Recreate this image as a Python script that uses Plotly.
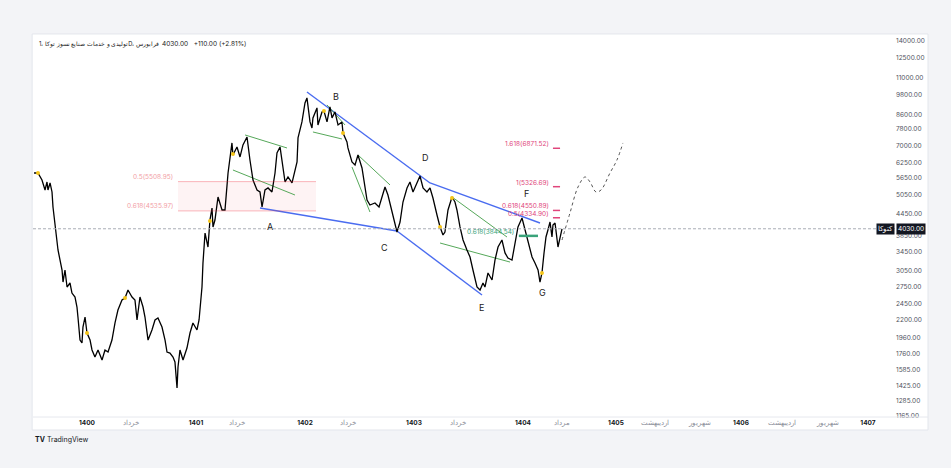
import plotly.graph_objects as go
import math

# ---- price series (Solar Hijri decimal year, close price) ----
years = [1399.514, 1399.550, 1399.587, 1399.596, 1399.615, 1399.633, 1399.642, 1399.661, 1399.679, 1399.688,
         1399.706, 1399.725, 1399.734, 1399.771, 1399.780, 1399.798, 1399.817, 1399.844, 1399.862, 1399.890,
         1399.908, 1399.917, 1399.936, 1399.954, 1399.963, 1399.982, 1400.000, 1400.028, 1400.046, 1400.073,
         1400.101, 1400.138, 1400.165, 1400.193, 1400.229, 1400.257, 1400.284, 1400.321, 1400.349, 1400.376,
         1400.413, 1400.440, 1400.459, 1400.486, 1400.514, 1400.532, 1400.560, 1400.596, 1400.624, 1400.651,
         1400.688, 1400.716, 1400.734, 1400.761, 1400.789, 1400.807, 1400.826, 1400.835, 1400.853, 1400.881,
         1400.917, 1400.945, 1400.972, 1401.009, 1401.028, 1401.055, 1401.064, 1401.083, 1401.110, 1401.128,
         1401.147, 1401.156, 1401.174, 1401.202, 1401.239, 1401.266, 1401.294, 1401.330, 1401.339, 1401.376,
         1401.404, 1401.431, 1401.468, 1401.495, 1401.523, 1401.560, 1401.587, 1401.606, 1401.633, 1401.661,
         1401.697, 1401.725, 1401.743, 1401.771, 1401.798, 1401.817, 1401.844, 1401.881, 1401.927, 1401.936,
         1401.972, 1402.000, 1402.018, 1402.046, 1402.064, 1402.073, 1402.110, 1402.119, 1402.156, 1402.174,
         1402.202, 1402.229, 1402.248, 1402.275, 1402.303, 1402.339, 1402.349, 1402.385, 1402.394, 1402.431,
         1402.459, 1402.486, 1402.523, 1402.550, 1402.569, 1402.596, 1402.642, 1402.679, 1402.716, 1402.734,
         1402.761, 1402.798, 1402.826, 1402.844, 1402.872, 1402.899, 1402.936, 1402.963, 1402.991, 1403.028,
         1403.055, 1403.083, 1403.119, 1403.147, 1403.174, 1403.211, 1403.239, 1403.266, 1403.284, 1403.312,
         1403.349, 1403.376, 1403.394, 1403.422, 1403.450, 1403.486, 1403.514, 1403.541, 1403.578, 1403.606,
         1403.633, 1403.651, 1403.679, 1403.716, 1403.743, 1403.771, 1403.807, 1403.835, 1403.862, 1403.899,
         1403.927, 1403.954, 1403.991, 1404.018, 1404.046, 1404.083, 1404.110, 1404.138, 1404.156, 1404.174,
         1404.193, 1404.211, 1404.229, 1404.248, 1404.266, 1404.275, 1404.294, 1404.321, 1404.358]
prices = [5833, 5833, 5569, 5460, 5211, 5496, 5211, 5460, 5143, 4656,
          4187, 3816, 3501, 3066, 2831, 3066, 2739, 2813, 2632, 2563,
          2399, 2245, 1927, 1890, 2101, 2245, 2019, 1927, 1804, 1722,
          1804, 1688, 1804, 1780, 1927, 2158, 2352, 2513, 2546, 2685,
          2563, 2513, 2201, 2563, 2399, 2245, 1927, 2060, 2201, 2230,
          2101, 1927, 1780, 1768, 1722, 1666, 1402, 1612, 1804, 1688,
          1828, 2019, 2158, 2060, 2201, 2739, 3211, 3918, 3571, 4271,
          4625, 4078, 4271, 4975, 4564, 4564, 5833, 7119, 6573, 6932,
          6487, 7025, 7407, 6358, 5569, 5211, 5143, 4656, 5211, 5282,
          5143, 5833, 6660, 6932, 5950, 5496, 5681, 5460, 6274, 7359,
          8182, 9281, 9594, 8182, 7862, 8404, 8981, 8019, 8742, 8800,
          8182, 9040, 8404, 8742, 8019, 8182, 7606, 7165, 6886, 6274,
          6152, 6573, 6031, 5282, 4877, 4718, 4780, 4656, 5143, 5317,
          5041, 4504, 4132, 3944, 4215, 4812, 5282, 5496, 5143, 5496,
          5719, 5282, 5143, 5282, 4942, 4415, 4078, 3867, 3944, 4564,
          4975, 4812, 4564, 4078, 3741, 3501, 3342, 3066, 2739, 2685,
          2813, 2739, 3006, 2869, 3275, 3571, 3741, 3433, 3320, 3275,
          3667, 4078, 4328, 3997, 3667, 3342, 3211, 3066, 2831, 3006,
          3433, 3816, 3997, 4215, 3816, 4132, 4187, 3571, 4030]

# projected path (dashed)
proj_years = [1404.358, 1404.431, 1404.505, 1404.569, 1404.615, 1404.670, 1404.716, 1404.798, 1404.862, 1404.917]
proj_prices = [3741, 4474, 5317, 5681, 5496, 5143, 5211, 5833, 6358, 7118]

last_price = 4030.00
change_abs = 110.00
change_pct = 2.81

# yellow marker points
dot_years = [1399.550, 1400.000, 1400.349, 1401.128, 1401.339, 1402.174, 1402.349, 1403.239, 1403.349, 1404.174]
dot_prices = [5833, 2019, 2546, 4243, 6618, 8800, 7606, 4078, 4942, 3006]

# wave labels
wave_names = ["A", "B", "C", "D", "E", "F", "G"]
wave_years = [1401.679, 1402.284, 1402.725, 1403.101, 1403.615, 1404.028, 1404.183]
wave_prices = [4078, 9657, 3571, 6445, 2399, 5075, 2649]

# blue trend lines (x0, y0, x1, y1)
blue_lines = [
    (1402.018, 9983, 1403.147, 5460),
    (1403.147, 5460, 1404.156, 4187),
    (1401.587, 4625, 1402.844, 3971),
    (1402.844, 3971, 1403.624, 2597),
]
# green channel lines
green_lines = [
    (1401.450, 7506, 1401.835, 6885),
    (1401.339, 5950, 1401.908, 5041),
    (1402.073, 7656, 1402.339, 7309),
    (1402.202, 9158, 1402.367, 8020),
    (1402.431, 6071, 1402.596, 4504),
    (1402.486, 6573, 1402.780, 5388),
    (1403.349, 4975, 1403.853, 3816),
    (1403.239, 3667, 1403.881, 3232),
]

# fib levels
fib_left_names = ["0.5(5508.95)", "0.618(4535.97)"]
fib_left_vals = [5508.95, 4535.97]
fib_left_x = (1400.835, 1402.101)

fib_right_names = ["1.618(6871.52)", "1(5326.69)", "0.618(4550.89)", "0.5(4334.90)"]
fib_right_vals = [6871.52, 5326.69, 4550.89, 4334.90]
fib_right_x = (1404.275, 1404.340)

fib_green_name = "0.618(3844.54)"
fib_green_val = 3844.54
fib_green_x = (1403.962, 1404.138)

# axis ticks
y_ticks = [14000, 12500, 11000, 9800, 8600, 7800, 7000, 6250, 5650, 5050, 4450, 3850, 3450,
           3050, 2750, 2450, 2200, 1960, 1760, 1585, 1425, 1285, 1165]
x_tick_vals = [1400.0, 1400.40, 1401.0, 1401.38, 1402.0, 1402.39, 1403.0, 1403.40, 1404.0, 1404.36,
               1404.853, 1405.21, 1405.62, 1406.0, 1406.376, 1406.80, 1407.165]
x_tick_labels = ["1400", "خرداد", "1401", "خرداد", "1402", "خرداد", "1403", "خرداد", "1404", "مرداد",
                 "1405", "اردیبهشت", "شهریور", "1406", "اردیبهشت", "شهریور", "1407"]

x_range = [1399.5046, 1407.413]
y_range_vals = [1157, 14370]

title_name = "تولیدی و خدمات صنایع نسوز توکا ،1D، فرابورس"

FONT = "Inter, Roboto, 'Noto Sans', sans-serif"
PINK = "#e0457b"
GREEN = "#56a85a"
BLUE = "#4a6cf0"

fig = go.Figure()

# fib zone rectangle (left)
fig.add_shape(type="rect", xref="x", yref="y", x0=fib_left_x[0], x1=fib_left_x[1],
              y0=fib_left_vals[1], y1=fib_left_vals[0], fillcolor="rgba(242,54,69,0.06)",
              line=dict(width=0), layer="below")
for v, name in zip(fib_left_vals, fib_left_names):
    fig.add_shape(type="line", xref="x", yref="y", x0=fib_left_x[0], x1=fib_left_x[1], y0=v, y1=v,
                  line=dict(color="rgba(242,54,69,0.35)", width=1))
    fig.add_annotation(x=fib_left_x[0] - 0.03, y=math.log10(v), text=name, showarrow=False,
                       xanchor="right", yanchor="middle", yshift=5,
                       font=dict(family=FONT, size=6.5, color="#f2a0a6"))

# current price dotted line
fig.add_shape(type="line", xref="paper", yref="y", x0=0, x1=1, y0=last_price, y1=last_price,
              line=dict(color="#a9adb6", width=1, dash="3px,2px"))

# blue & green lines
for x0, y0, x1, y1 in blue_lines:
    fig.add_trace(go.Scatter(x=[x0, x1], y=[y0, y1], mode="lines",
                             line=dict(color=BLUE, width=1.4), hoverinfo="skip"))
for x0, y0, x1, y1 in green_lines:
    fig.add_trace(go.Scatter(x=[x0, x1], y=[y0, y1], mode="lines",
                             line=dict(color=GREEN, width=1), hoverinfo="skip"))

# price
fig.add_trace(go.Scatter(x=years, y=prices, mode="lines",
                         line=dict(color="#000000", width=1.3), hoverinfo="skip"))
# projection
fig.add_trace(go.Scatter(x=proj_years, y=proj_prices, mode="lines",
                         line=dict(color="#555555", width=1, dash="dot", shape="spline"),
                         hoverinfo="skip"))
# dots
fig.add_trace(go.Scatter(x=dot_years, y=dot_prices, mode="markers",
                         marker=dict(color="#f5c518", size=4), hoverinfo="skip"))

# right fib levels
for v, name in zip(fib_right_vals, fib_right_names):
    fig.add_shape(type="line", xref="x", yref="y", x0=fib_right_x[0], x1=fib_right_x[1], y0=v, y1=v,
                  line=dict(color=PINK, width=1.5))
    fig.add_annotation(x=fib_right_x[0] - 0.02, y=math.log10(v), text=name, showarrow=False,
                       xanchor="right", yanchor="middle", yshift=4,
                       font=dict(family=FONT, size=6.5, color=PINK))

# green fib
fig.add_shape(type="line", xref="x", yref="y", x0=fib_green_x[0], x1=fib_green_x[1],
              y0=fib_green_val, y1=fib_green_val, line=dict(color="#3aa37a", width=2.5))
fig.add_annotation(x=fib_green_x[0] - 0.03, y=math.log10(fib_green_val), text=fib_green_name,
                   showarrow=False, xanchor="right", yanchor="middle", yshift=4,
                   font=dict(family=FONT, size=6.5, color="#3aa37a"))

# wave labels
for n, xv, yv in zip(wave_names, wave_years, wave_prices):
    fig.add_annotation(x=xv, y=math.log10(yv), text=n, showarrow=False,
                       font=dict(family=FONT, size=9, color="#222222"))

# title (name part and numbers part)
fig.add_annotation(xref="paper", yref="paper", x=0.005, y=0.982, xanchor="left", yanchor="middle",
                   text=title_name, showarrow=False,
                   font=dict(family=FONT, size=5.8, color="#222222"))
fig.add_annotation(xref="paper", yref="paper", x=0.147, y=0.982, xanchor="left", yanchor="middle",
                   text="\u200e" + f"{last_price:.2f}&nbsp;&nbsp;&nbsp;+{change_abs:.2f} (+{change_pct:.2f}%)" + "\u200e",
                   showarrow=False, font=dict(family=FONT, size=6.5, color="#222222"))

# price labels on right
fig.add_annotation(xref="paper", yref="y", x=1.0012, y=math.log10(last_price), xanchor="left",
                   text=f"{last_price:.2f}", showarrow=False, bgcolor="#131722",
                   font=dict(family=FONT, size=6.5, color="#ffffff"), borderpad=1)
fig.add_annotation(xref="paper", yref="y", x=0.9995, y=math.log10(last_price), xanchor="right",
                   text="کتوکا", showarrow=False, bgcolor="#131722",
                   font=dict(family=FONT, size=6.5, color="#ffffff"), borderpad=1)

# TradingView mark
fig.add_annotation(xref="paper", yref="paper", x=0.0, y=-0.058, xanchor="left", yanchor="middle",
                   text="<b>TV</b> TradingView", showarrow=False,
                   font=dict(family=FONT, size=7, color="#131722"))

# panel background
fig.add_shape(type="rect", xref="paper", yref="paper", x0=-0.001, x1=1.0383, y0=-0.0342, y1=1.008,
              fillcolor="#ffffff", line=dict(color="#e3e6ec", width=1), layer="below")
fig.add_shape(type="line", xref="paper", yref="paper", x0=0, x1=1.0383, y0=0, y1=0,
              line=dict(color="#e6e8ee", width=1))

tick_text_fmt = []
for v, t in zip(x_tick_vals, x_tick_labels):
    if t.isdigit():
        tick_text_fmt.append(f"<b>{t}</b>")
    else:
        tick_text_fmt.append(f"<span style='color:#8a8e99'>{t}</span>")

fig.update_layout(
    width=951, height=468,
    margin=dict(l=33, r=56, t=37, b=51),
    paper_bgcolor="#f3f4f7",
    plot_bgcolor="rgba(0,0,0,0)",
    showlegend=False,
    font=dict(family=FONT),
    xaxis=dict(range=x_range, showgrid=False, zeroline=False, showline=False,
               tickvals=x_tick_vals, ticktext=tick_text_fmt, ticks="",
               tickfont=dict(size=6.5, color="#131722"), fixedrange=True),
    yaxis=dict(type="log", range=[math.log10(y_range_vals[0]), math.log10(y_range_vals[1])],
               side="right", showgrid=False, zeroline=False, showline=False, ticks="",
               tickvals=y_ticks, ticktext=[f"{v:.2f}" for v in y_ticks],
               tickfont=dict(size=6.5, color="#50535e"), fixedrange=True),
)

fig.write_html("out.html")
